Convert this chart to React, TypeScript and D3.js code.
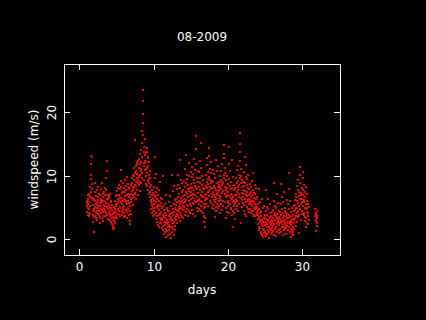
import React from "react";
import * as d3 from "d3";

// windspeed samples (m/s), one every 40 minutes, starting at the given day
const week1Start = 1;
const week1 = [
  5.2, 6.1, 4.3, 5.8, 7.0, 4.9, 3.8, 5.5, 6.4, 4.1, 5.9, 7.2, 3.6, 4.8, 6.6, 5.3, 4.0, 6.8, 8.2, 7.4, 9.5, 13.1, 11.8, 10.2, 8.7, 12.9, 6.5, 7.9, 5.4, 4.6, 6.2, 3.9, 2.8, 4.4, 1.2, 3.5,
  4.8, 6.3, 3.7, 5.1, 7.4, 8.9, 6.0, 4.2, 5.6, 3.3, 6.8, 5.0, 4.5, 7.7, 5.9, 3.1, 4.9, 6.2, 8.3, 5.4, 4.0, 6.7, 3.8, 5.2, 7.1, 4.4, 2.6, 5.7, 6.9, 4.7, 3.5, 6.1, 7.9, 5.3, 4.1, 6.4,
  8.8, 6.2, 4.6, 5.9, 3.4, 7.1, 5.0, 4.3, 6.6, 2.9, 5.4, 7.5, 4.8, 3.7, 6.0, 5.2, 8.1, 4.5, 6.9, 3.6, 5.7, 7.8, 4.2, 9.6, 10.8, 12.3, 6.4, 5.1, 3.9, 7.0, 4.7, 6.3, 3.2, 5.5, 4.0, 6.8,
  5.3, 4.1, 6.5, 3.6, 5.0, 7.2, 4.4, 3.1, 5.8, 4.9, 2.7, 6.1, 3.8, 5.4, 2.4, 4.6, 3.3, 1.9, 4.0, 2.2, 3.5, 1.6, 2.9, 4.3, 1.8, 3.0, 5.1, 2.5, 4.7, 3.4, 6.0, 4.2, 5.6, 3.7, 6.8, 4.5,
  5.2, 6.9, 4.0, 7.6, 5.5, 3.4, 6.3, 8.1, 4.7, 5.9, 3.8, 7.0, 6.2, 4.4, 8.6, 5.1, 3.6, 6.7, 7.9, 4.9, 9.2, 5.8, 6.5, 10.9, 8.3, 4.3, 7.3, 5.6, 3.9, 6.1, 8.8, 5.0, 4.6, 7.4, 6.0, 3.5,
  6.4, 8.0, 5.2, 4.1, 7.5, 9.3, 6.8, 3.7, 5.9, 8.4, 4.6, 6.2, 7.7, 3.3, 5.5, 9.8, 6.9, 4.3, 7.1, 5.0, 8.7, 6.0, 4.8, 7.9, 5.7, 3.9, 6.6, 8.2, 4.4, 2.9, 5.3, 2.4, 7.0, 4.0, 6.3, 8.6,
  7.2, 5.8, 8.9, 6.5, 9.7, 7.6, 5.4, 8.3, 10.1, 6.9, 7.8, 9.4, 11.2, 8.0, 6.7, 9.9, 7.3, 15.6, 10.5, 8.6, 7.1, 11.6, 9.0, 6.4, 10.8, 8.4, 12.1, 9.6, 7.7, 10.3, 11.9, 8.8, 6.9, 9.3, 12.4, 10.0,
];
const week2Start = 8;
const week2 = [
  9.8, 11.3, 8.5, 12.6, 10.2, 7.6, 11.8, 13.4, 9.1, 10.7, 12.2, 8.9, 14.1, 11.0, 9.6, 12.9, 10.4, 15.2, 17.1, 19.8, 23.5, 21.7, 18.3, 16.4, 13.8, 11.5, 14.6, 12.0, 9.4, 13.2, 10.9, 15.8, 12.4, 8.7, 11.1, 13.6,
  12.1, 9.9, 13.7, 11.2, 8.4, 14.3, 10.5, 12.8, 9.2, 11.6, 7.8, 13.0, 10.1, 8.8, 12.2, 9.5, 7.1, 10.8, 8.3, 6.6, 9.7, 7.4, 5.9, 8.6, 6.2, 4.8, 7.7, 5.3, 6.9, 4.1, 5.6, 3.7, 6.4, 4.5, 7.3, 5.0,
  6.1, 4.4, 8.2, 5.5, 3.8, 7.0, 12.9, 9.6, 6.7, 4.9, 3.2, 5.8, 7.5, 4.2, 10.3, 6.3, 2.7, 5.1, 8.0, 3.6, 6.9, 4.7, 2.3, 5.4, 7.7, 3.9, 6.0, 2.0, 4.6, 9.1, 3.4, 5.2, 2.6, 4.0, 6.5, 3.1,
  4.3, 2.5, 5.7, 3.4, 1.8, 4.9, 6.4, 3.0, 2.1, 5.2, 9.9, 3.8, 1.4, 4.6, 2.8, 0.9, 3.6, 5.5, 2.2, 4.1, 1.1, 3.3, 6.9, 2.6, 0.4, 3.9, 1.7, 4.8, 2.9, 1.3, 5.0, 3.1, 0.7, 2.4, 4.4, 1.9,
  2.7, 4.5, 1.5, 3.7, 5.9, 2.3, 0.8, 3.2, 6.8, 4.0, 1.9, 2.9, 0.2, 3.5, 5.3, 2.0, 10.1, 4.2, 1.2, 3.0, 7.6, 2.5, 4.7, 1.6, 3.8, 8.4, 5.6, 2.8, 4.3, 0.6, 3.4, 6.2, 2.1, 4.9, 1.4, 3.6,
  4.6, 6.3, 3.1, 5.4, 7.9, 4.0, 2.6, 5.8, 8.6, 3.7, 6.7, 4.4, 10.2, 5.1, 3.4, 7.2, 4.8, 6.0, 2.9, 5.5, 12.5, 8.1, 4.2, 6.5, 3.8, 5.9, 9.4, 4.9, 7.4, 3.5, 6.1, 4.7, 8.9, 5.2, 3.3, 6.8,
  5.7, 7.8, 4.6, 6.4, 9.2, 5.1, 8.3, 3.9, 6.9, 11.0, 5.8, 7.4, 4.3, 8.8, 6.2, 13.3, 10.1, 5.4, 7.1, 4.8, 9.5, 6.6, 3.7, 7.9, 5.3, 8.5, 12.0, 6.0, 4.5, 7.6, 9.9, 5.6, 8.1, 4.1, 6.8, 10.6,
];
const week3Start = 15;
const week3 = [
  6.3, 8.7, 5.2, 7.5, 9.8, 4.6, 6.9, 11.4, 8.0, 5.7, 7.2, 10.3, 4.0, 6.5, 8.9, 12.7, 7.7, 5.5, 9.3, 6.1, 3.7, 8.4, 10.9, 7.0, 5.9, 14.2, 16.2, 11.8, 8.2, 6.7, 9.6, 5.0, 7.9, 4.4, 10.7, 6.0,
  7.3, 9.1, 5.6, 8.2, 6.4, 10.6, 4.8, 7.7, 12.3, 8.9, 6.1, 9.7, 5.3, 15.1, 11.2, 7.0, 4.5, 8.6, 6.8, 10.0, 5.9, 7.4, 9.3, 4.1, 6.6, 8.0, 3.6, 5.5, 7.9, 2.8, 4.9, 6.2, 2.0, 5.1, 3.3, 6.9,
  6.5, 8.4, 10.2, 7.1, 5.6, 9.0, 11.7, 8.0, 6.3, 12.8, 9.5, 7.4, 5.2, 8.7, 10.6, 6.8, 14.3, 13.1, 9.8, 7.6, 11.0, 8.3, 6.0, 9.4, 12.1, 7.9, 5.7, 10.4, 8.8, 6.6, 9.2, 7.2, 5.0, 8.1, 10.9, 6.9,
  7.5, 5.4, 9.1, 6.2, 8.4, 4.7, 7.0, 10.3, 5.9, 8.0, 3.5, 6.7, 9.6, 5.1, 7.8, 12.5, 6.4, 4.4, 8.9, 7.2, 5.6, 10.8, 6.9, 4.9, 8.2, 7.4, 11.6, 9.0, 6.1, 8.6, 5.3, 7.7, 9.9, 6.5, 4.2, 8.3,
  6.8, 9.3, 5.5, 7.9, 10.7, 6.2, 8.5, 4.6, 7.3, 11.9, 9.0, 6.0, 8.8, 5.2, 7.6, 10.1, 12.8, 14.8, 13.4, 9.7, 7.1, 11.3, 8.2, 5.8, 10.5, 6.6, 3.4, 7.8, 9.4, 5.0, 8.0, 6.9, 4.3, 7.5, 9.9, 5.7,
  7.4, 5.3, 8.7, 6.1, 4.2, 9.5, 6.8, 14.6, 11.8, 7.9, 5.6, 8.4, 10.7, 6.5, 4.7, 7.2, 9.1, 5.0, 12.5, 8.0, 6.3, 3.8, 7.0, 5.8, 9.8, 4.5, 6.7, 2.0, 5.2, 8.6, 6.0, 4.1, 7.7, 5.5, 3.2, 6.9,
  5.9, 8.1, 4.8, 7.0, 9.6, 6.4, 5.2, 8.8, 10.9, 7.5, 6.1, 9.2, 4.4, 7.8, 11.6, 8.3, 6.7, 10.2, 5.6, 8.6, 7.1, 12.4, 9.7, 13.8, 16.7, 15.0, 11.1, 8.9, 6.5, 9.9, 2.5, 7.3, 5.1, 8.2, 6.2, 9.4,
];
const week4Start = 22;
const week4 = [
  7.8, 5.7, 9.1, 6.6, 4.5, 8.4, 10.6, 7.2, 5.4, 13.0, 8.9, 6.3, 4.0, 7.6, 9.8, 5.9, 11.7, 7.0, 3.6, 6.8, 8.6, 5.1, 7.4, 9.5, 6.1, 4.7, 8.1, 6.4, 10.2, 5.5, 7.9, 4.3, 6.9, 8.7, 5.8, 7.3,
  6.2, 4.8, 7.5, 5.6, 8.3, 4.1, 6.7, 5.2, 9.2, 7.0, 4.5, 6.0, 3.6, 5.8, 7.8, 4.4, 10.5, 6.5, 5.0, 7.3, 3.9, 6.1, 8.6, 4.7, 5.5, 7.1, 3.7, 6.3, 4.9, 8.0, 5.3, 4.0, 6.6, 3.8, 5.1, 4.3,
  4.6, 3.2, 5.5, 2.4, 3.9, 7.9, 4.8, 2.0, 3.5, 1.4, 4.2, 2.7, 5.9, 1.8, 3.1, 0.9, 2.5, 4.4, 1.2, 3.7, 6.3, 2.2, 0.6, 3.0, 1.6, 4.9, 2.8, 0.3, 2.1, 3.4, 1.0, 5.2, 2.6, 1.5, 3.8, 0.8,
  2.3, 3.6, 1.1, 4.5, 2.7, 0.5, 3.2, 7.8, 5.1, 1.9, 3.9, 2.4, 0.8, 3.0, 4.7, 1.5, 2.9, 6.4, 2.0, 3.5, 1.2, 0.2, 2.6, 4.1, 1.7, 3.3, 5.6, 2.2, 0.9, 3.7, 1.4, 2.8, 4.3, 1.0, 2.5, 3.1,
  1.8, 3.4, 2.1, 4.6, 1.3, 2.9, 0.7, 3.8, 8.9, 6.1, 2.4, 4.2, 1.6, 3.1, 5.3, 2.0, 0.5, 3.6, 1.9, 4.9, 2.6, 1.1, 3.3, 7.2, 4.0, 2.2, 1.4, 3.0, 5.7, 2.7, 1.0, 3.5, 2.3, 4.4, 1.5, 2.8,
  3.2, 1.7, 4.3, 2.5, 5.5, 3.0, 1.2, 3.9, 8.7, 6.6, 2.8, 4.8, 1.9, 3.4, 0.6, 2.2, 4.1, 5.9, 2.9, 1.4, 3.7, 2.0, 7.4, 4.5, 3.1, 1.6, 2.6, 5.0, 3.6, 0.9, 2.3, 4.2, 1.8, 3.3, 6.2, 2.7,
  2.1, 4.0, 1.5, 3.3, 5.6, 2.6, 10.4, 7.9, 3.8, 1.9, 4.7, 2.8, 1.2, 3.5, 6.1, 2.4, 0.4, 3.0, 1.7, 4.3, 2.2, 0.9, 3.6, 1.4, 2.7, 5.0, 1.1, 3.2, 2.0, 0.6, 3.9, 2.5, 1.6, 4.4, 3.1, 5.3,
];
const week5Start = 29;
const week5 = [
  4.6, 6.2, 3.3, 5.4, 2.1, 7.1, 4.9, 3.7, 6.6, 8.4, 5.0, 2.8, 6.0, 4.2, 7.8, 3.5, 5.7, 9.3, 4.4, 6.8, 1.0, 5.2, 7.5, 3.9, 10.2, 11.4, 8.8, 6.3, 4.7, 7.3, 5.5, 3.1, 6.9, 8.1, 4.0, 5.9,
  6.4, 4.5, 7.7, 5.3, 9.6, 10.6, 7.0, 3.8, 5.8, 8.5, 4.1, 6.2, 2.9, 5.0, 7.4, 3.5, 6.7, 4.8, 8.2, 2.0, 5.5, 3.3, 6.0, 4.3, 7.1, 2.6, 4.9, 3.7, 5.6, 2.4, 4.2, 3.0, 5.1,
];
const tailStart = 31.75;
const tail = [4.8, 3.6, 2.9, 4.2, 3.1, 1.3, 3.9, 2.5, 4.5, 3.3, 2.1, 3.7];

const xTicks = [0, 10, 20, 30];
const yTicks = [0, 10, 20];

const segments: [number, number[]][] = [
  [week1Start, week1],
  [week2Start, week2],
  [week3Start, week3],
  [week4Start, week4],
  [week5Start, week5],
  [tailStart, tail],
];

const W = 426;
const H = 320;
const left = 64, right = 340, top = 64, bottom = 255;
const tick = 6;
const font = "'DejaVu Sans', sans-serif";

export default function App() {
  const x = d3.scaleLinear().domain([-2.06, 35.1]).range([left, right]);
  const y = d3.scaleLinear().domain([-2.47, 27.6]).range([bottom, top]);

  const pts: { d: number; v: number }[] = [];
  segments.forEach(([start, vals]) => {
    vals.forEach((v, i) => pts.push({ d: start + i / 36, v }));
  });

  return (
    <svg
      width={W}
      height={H}
      style={{ position: "absolute", left: 0, top: 0, display: "block" }}
    >
      <rect x={0} y={0} width={W} height={H} fill="#000" />

      <text x={(left + right) / 2} y={41} fill="#fff" fontFamily={font} fontSize={12} textAnchor="middle">
        08-2009
      </text>

      {pts.map((p, i) => (
        <rect key={i} x={Math.round(x(p.d)) - 1} y={Math.round(y(p.v)) - 1} width={2} height={2} fill="#ff0000" />
      ))}

      <rect x={left + 0.5} y={top + 0.5} width={right - left} height={bottom - top} fill="none" stroke="#fff" strokeWidth={1} />

      {xTicks.map((t) => {
        const px = Math.round(x(t)) + 0.5;
        return (
          <g key={"x" + t}>
            <line x1={px} x2={px} y1={bottom} y2={bottom - tick} stroke="#fff" />
            <line x1={px} x2={px} y1={top} y2={top + tick} stroke="#fff" />
            <text x={px} y={271} fill="#fff" fontFamily={font} fontSize={12} textAnchor="middle">
              {t}
            </text>
          </g>
        );
      })}

      {yTicks.map((t) => {
        const py = Math.round(y(t)) + 0.5;
        return (
          <g key={"y" + t}>
            <line x1={left} x2={left + tick} y1={py} y2={py} stroke="#fff" />
            <line x1={right} x2={right - tick} y1={py} y2={py} stroke="#fff" />
            <text
              transform={`translate(56,${py}) rotate(-90)`}
              fill="#fff"
              fontFamily={font}
              fontSize={12}
              textAnchor="middle"
            >
              {t}
            </text>
          </g>
        );
      })}

      <text x={(left + right) / 2} y={294} fill="#fff" fontFamily={font} fontSize={12} textAnchor="middle">
        days
      </text>
      <text
        transform={`translate(38,${(top + bottom) / 2}) rotate(-90)`}
        fill="#fff"
        fontFamily={font}
        fontSize={12}
        textAnchor="middle"
      >
        windspeed (m/s)
      </text>
    </svg>
  );
}
